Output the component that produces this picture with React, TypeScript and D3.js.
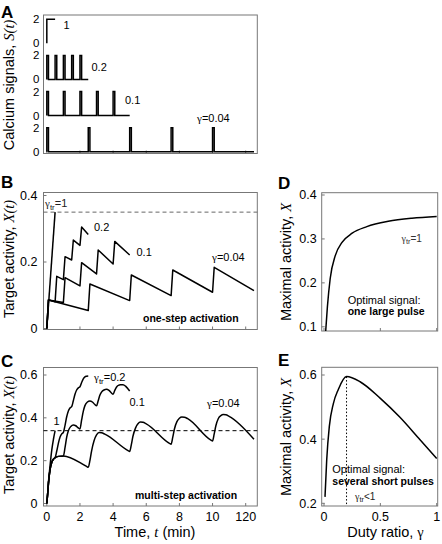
import React from "react";
import * as d3 from "d3";

// ---------- shared axis data ----------
const timeTicks = [0, 2, 4, 6, 8, 10, 12];
const timeTickLabels = ["0", "2", "4", "6", "8", "10", "120"];

// ---------- A: calcium signals ----------
const signalLabels = ["1", "0.2", "0.1", "γ=0.04"];
const pulseStarts = [[0], [0, 0.5, 1, 1.5, 2], [0, 1, 2, 3, 4], [0, 2.5, 5, 7.5, 10]];
const pulseWidths = [0.5, 0.1, 0.1, 0.1];
const signalEnds = [0.5, 2.5, 5, 12.5];
const signalAmplitude = 2;
const signalTicks = [0, 2];

// ---------- B: one-step activation X(t) ----------
const oneStepG1: number[][] = [[0, 0], [0.5, 0.35]];
const oneStepG02: number[][] = [[0, 0], [0.1, 0.086], [0.5, 0.08], [0.6, 0.157], [1.0, 0.147], [1.1, 0.216], [1.5, 0.206], [1.6, 0.266], [2.0, 0.25], [2.1, 0.305], [2.5, 0.283]];
const oneStepG01: number[][] = [[0, 0], [0.1, 0.086], [1.0, 0.078], [1.1, 0.153], [2.0, 0.128], [2.1, 0.198], [3.0, 0.164], [3.1, 0.236], [4.0, 0.194], [4.1, 0.262], [5.0, 0.221]];
const oneStepG004: number[][] = [[0, 0], [0.1, 0.086], [2.5, 0.054], [2.6, 0.134], [5.0, 0.084], [5.1, 0.161], [7.5, 0.099], [7.6, 0.176], [10.0, 0.109], [10.1, 0.184], [12.5, 0.114]];
const oneStepThreshold = 0.35;
const oneStepTicks = [0, 0.2, 0.4];

// ---------- C: multi-step activation X(t) ----------
const multiG1: number[][] = [[0, 0], [0.05, 0.045], [0.1, 0.1], [0.2, 0.18], [0.3, 0.25], [0.4, 0.3], [0.5, 0.34]];
const multiG02: number[][] = [[0, 0], [0.05, 0.045], [0.1, 0.095], [0.2, 0.16], [0.3, 0.193], [0.4, 0.207], [0.5, 0.214], [0.6, 0.245], [0.7, 0.282], [0.8, 0.31], [0.9, 0.325], [1.0, 0.332], [1.1, 0.365], [1.2, 0.405], [1.3, 0.432], [1.4, 0.446], [1.5, 0.452], [1.6, 0.48], [1.7, 0.51], [1.8, 0.53], [1.9, 0.54], [2.0, 0.545], [2.1, 0.565], [2.2, 0.582], [2.3, 0.591], [2.4, 0.594], [2.5, 0.595]];
const multiG01: number[][] = [[0, 0], [0.05, 0.045], [0.1, 0.095], [0.2, 0.16], [0.3, 0.193], [0.4, 0.207], [0.5, 0.214], [0.7, 0.22], [1.0, 0.222], [1.1, 0.262], [1.2, 0.31], [1.3, 0.34], [1.45, 0.36], [1.6, 0.367], [1.75, 0.363], [1.9, 0.353], [2.0, 0.348], [2.1, 0.39], [2.2, 0.43], [2.3, 0.457], [2.45, 0.474], [2.6, 0.479], [2.75, 0.474], [2.9, 0.462], [3.0, 0.456], [3.1, 0.48], [3.2, 0.505], [3.3, 0.52], [3.45, 0.53], [3.6, 0.533], [3.75, 0.528], [3.9, 0.516], [4.0, 0.51], [4.1, 0.528], [4.2, 0.543], [4.3, 0.551], [4.45, 0.555], [4.6, 0.555], [4.75, 0.548], [4.9, 0.535], [5.0, 0.525]];
const multiG004: number[][] = [[0, 0], [0.05, 0.045], [0.1, 0.095], [0.2, 0.16], [0.3, 0.193], [0.4, 0.207], [0.5, 0.214], [0.7, 0.22], [1.0, 0.222], [2.4, 0.173], [2.5, 0.169], [2.6, 0.2], [2.7, 0.245], [2.85, 0.293], [3.0, 0.32], [3.15, 0.331], [3.3, 0.33], [3.5, 0.324], [4.9, 0.247], [5.0, 0.243], [5.1, 0.275], [5.2, 0.315], [5.35, 0.352], [5.5, 0.372], [5.65, 0.38], [5.8, 0.379], [6.0, 0.372], [7.4, 0.281], [7.5, 0.277], [7.6, 0.31], [7.7, 0.348], [7.85, 0.382], [8.0, 0.398], [8.15, 0.404], [8.3, 0.403], [8.5, 0.396], [9.9, 0.296], [10.0, 0.292], [10.1, 0.325], [10.2, 0.363], [10.35, 0.397], [10.5, 0.41], [10.65, 0.415], [10.8, 0.414], [11.0, 0.407], [12.5, 0.3]];
const multiThreshold = 0.34;
const multiTicks = [0, 0.2, 0.4, 0.6];

// ---------- D / E: maximal activity vs duty ratio ----------
const dutyTicks = [0, 0.5, 1];
const dutyTickLabels = ["0", "0.5", "1"];
const dGamma = [0.015, 0.03, 0.055, 0.1, 0.16, 0.25, 0.38, 0.57, 0.78, 1.0];
const dMax = [0.09, 0.145, 0.21, 0.262, 0.292, 0.313, 0.328, 0.34, 0.347, 0.351];
const dTicks = [0.1, 0.2, 0.3, 0.4];
const eGamma = [0.009, 0.024, 0.047, 0.083, 0.127, 0.2, 0.32, 0.5, 0.674, 0.852, 1.0];
const eMax = [0.22, 0.335, 0.439, 0.511, 0.555, 0.595, 0.579, 0.527, 0.468, 0.398, 0.34];
const eTicks = [0.2, 0.4, 0.6];
const eOptimalGamma = 0.2;

const SANS = "'Liberation Sans', Arial, Helvetica, sans-serif";
const SERIF = "'Liberation Serif', 'Times New Roman', serif";
const BOX = "#777";
const TICK_FS = 12.5;
const TITLE_FS = 14.5;
const NOTE_FS = 11;

type Rect = { x0: number; x1: number; y0: number; y1: number };

const boxA: Rect = { x0: 43.5, x1: 257.3, y0: 15, y1: 153.5 };
const boxB: Rect = { x0: 43.5, x1: 257.3, y0: 192.5, y1: 329.5 };
const boxC: Rect = { x0: 43.5, x1: 257.3, y0: 367.5, y1: 506 };
const boxD: Rect = { x0: 321.7, x1: 437.7, y0: 192.7, y1: 331 };
const boxE: Rect = { x0: 321.7, x1: 437.7, y0: 367.3, y1: 506 };

const xT = d3.scaleLinear().domain([-0.2, 12.7]).range([boxA.x0, boxA.x1]);
const rowBase = d3.scaleLinear().domain([0, 3]).range([43.3, 151.7]);
const yB = d3.scaleLinear().domain([0, 0.4]).range([328.5, 195.5]);
const yC = d3.scaleLinear().domain([0, 0.6]).range([503.5, 375]);
const xDuty = d3.scaleLinear().domain([0, 1]).range([324, 436.7]);
const yD = d3.scaleLinear().domain([0.1, 0.4]).range([326.8, 195]);
const yE = d3.scaleLinear().domain([0.2, 0.6]).range([503.3, 375]);

const Box = ({ r }: { r: Rect }) => (
  <rect x={r.x0} y={r.y0} width={r.x1 - r.x0} height={r.y1 - r.y0} fill="none" stroke={BOX} strokeWidth={1} />
);

function signalPoints(i: number): number[][] {
  const pts: number[][] = [];
  const w = pulseWidths[i];
  const end = signalEnds[i];
  pulseStarts[i].forEach((s) => {
    pts.push([s, 0], [s, signalAmplitude]);
    if (s + w < end) {
      pts.push([s + w, signalAmplitude], [s + w, 0]);
    } else {
      pts.push([end, signalAmplitude]);
    }
  });
  const last = pts[pts.length - 1];
  if (last[1] === 0 && last[0] < end) pts.push([end, 0]);
  return pts;
}

export default function App() {
  const lineB = d3.line<number[]>().x((d) => xT(d[0])).y((d) => yB(d[1]));
  const lineC = d3.line<number[]>().x((d) => xT(d[0])).y((d) => yC(d[1])).curve(d3.curveMonotoneX);
  const dPts = dGamma.map((g, i) => [g, dMax[i]]);
  const ePts = eGamma.map((g, i) => [g, eMax[i]]);
  const lineD = d3.line<number[]>().x((d) => xDuty(d[0])).y((d) => yD(d[1])).curve(d3.curveMonotoneX);
  const lineE = d3.line<number[]>().x((d) => xDuty(d[0])).y((d) => yE(d[1])).curve(d3.curveMonotoneX);
  const ePeak = d3.max(eMax) as number;

  const bottomTicks = (r: Rect, ticks: number[], sx: (v: number) => number) =>
    ticks.map((t, i) => (
      <line key={"bt" + i} x1={sx(t)} x2={sx(t)} y1={r.y1} y2={r.y1 - 3} stroke={BOX} strokeWidth={1} />
    ));
  const leftTicks = (r: Rect, ticks: number[], sy: (v: number) => number, gap = 6) =>
    ticks.map((t, i) => (
      <g key={"lt" + i}>
        <line x1={r.x0} x2={r.x0 + 3} y1={sy(t)} y2={sy(t)} stroke={BOX} strokeWidth={1} />
        <text x={r.x0 - gap} y={sy(t)} dy="0.35em" textAnchor="end" fontSize={TICK_FS}>
          {String(t)}
        </text>
      </g>
    ));

  return (
    <svg
      width={442}
      height={544}
      viewBox="0 0 442 544"
      style={{ position: "absolute", left: 0, top: 0, background: "#fff" }}
      fontFamily={SANS}
    >
      <defs>
        <clipPath id="clipD">
          <rect x={boxD.x0} y={boxD.y0} width={boxD.x1 - boxD.x0} height={boxD.y1 - boxD.y0} />
        </clipPath>
        <clipPath id="clipE">
          <rect x={boxE.x0} y={boxE.y0} width={boxE.x1 - boxE.x0} height={boxE.y1 - boxE.y0} />
        </clipPath>
      </defs>
      <rect x={0} y={0} width={442} height={544} fill="#fff" />

      {/* Panel letters */}
      <g fontWeight="bold" fontSize={17}>
        <text x={1} y={17.5}>A</text>
        <text x={1} y={187.5}>B</text>
        <text x={1} y={367}>C</text>
        <text x={278} y={188.5}>D</text>
        <text x={278} y={365.5}>E</text>
      </g>

      {/* ---------------- Panel A ---------------- */}
      <Box r={boxA} />
      {bottomTicks(boxA, timeTicks, xT)}
      {pulseStarts.map((_, i) => {
        const yr = d3.scaleLinear().domain([0, 2]).range([rowBase(i), rowBase(i) - 24]);
        const line = d3.line<number[]>().x((d) => xT(d[0])).y((d) => yr(d[1]));
        return (
          <g key={"row" + i}>
            <path d={line(signalPoints(i)) || ""} fill="none" stroke="#000" strokeWidth={1.5} />
            {signalTicks.map((v) => (
              <text key={v} x={boxA.x0 - 4} y={yr(v)} dy="0.35em" textAnchor="end" fontSize={11.5}>
                {String(v)}
              </text>
            ))}
          </g>
        );
      })}
      <g fontSize={NOTE_FS}>
        <text x={63.5} y={29}>{signalLabels[0]}</text>
        <text x={91.5} y={70.5}>{signalLabels[1]}</text>
        <text x={125} y={104}>{signalLabels[2]}</text>
        <text x={197} y={122}>
          <tspan fontFamily={SERIF}>{signalLabels[3].slice(0, 1)}</tspan>
          <tspan>{signalLabels[3].slice(1)}</tspan>
        </text>
      </g>
      <text transform="translate(14,85) rotate(-90)" textAnchor="middle" fontSize={TITLE_FS}>
        Calcium signals, <tspan fontFamily={SERIF} fontStyle="italic">S(t)</tspan>
      </text>

      {/* ---------------- Panel B ---------------- */}
      <Box r={boxB} />
      {bottomTicks(boxB, timeTicks, xT)}
      {leftTicks(boxB, oneStepTicks, yB)}
      <line x1={boxB.x0} x2={boxB.x1} y1={yB(oneStepThreshold)} y2={yB(oneStepThreshold)} stroke="#666" strokeWidth={1} strokeDasharray="4,3" />
      {[oneStepG1, oneStepG02, oneStepG01, oneStepG004].map((s, i) => (
        <path key={"b" + i} d={lineB(s) || ""} fill="none" stroke="#000" strokeWidth={1.5} strokeLinejoin="round" />
      ))}
      <g fontSize={NOTE_FS}>
        <text x={45} y={207} fill="#222">
          <tspan fontFamily={SERIF}>γ</tspan>
          <tspan fontSize={8} dy={2.5}>tr</tspan>
          <tspan dy={-2.5}>=1</tspan>
        </text>
        <text x={94} y={230.5}>0.2</text>
        <text x={136.5} y={255.5}>0.1</text>
        <text x={212} y={261}>
          <tspan fontFamily={SERIF}>γ</tspan>=0.04
        </text>
      </g>
      <text x={143} y={321.5} fontSize={10.5} fontWeight="bold">one-step activation</text>
      <text transform="translate(14,259) rotate(-90)" textAnchor="middle" fontSize={TITLE_FS}>
        Target activity, <tspan fontFamily={SERIF} fontStyle="italic">X(t)</tspan>
      </text>

      {/* ---------------- Panel C ---------------- */}
      <Box r={boxC} />
      {bottomTicks(boxC, timeTicks, xT)}
      {leftTicks(boxC, multiTicks, yC)}
      {timeTicks.map((t, i) => (
        <text key={"ct" + i} x={xT(t)} y={521} textAnchor="middle" fontSize={TICK_FS}>
          {timeTickLabels[i]}
        </text>
      ))}
      <line x1={boxC.x0} x2={boxC.x1} y1={yC(multiThreshold)} y2={yC(multiThreshold)} stroke="#000" strokeWidth={1} strokeDasharray="4,3" />
      {[multiG1, multiG02, multiG01, multiG004].map((s, i) => (
        <path key={"c" + i} d={lineC(s) || ""} fill="none" stroke="#000" strokeWidth={1.5} strokeLinejoin="round" />
      ))}
      <g fontSize={NOTE_FS}>
        <text x={94} y={381}>
          <tspan fontFamily={SERIF}>γ</tspan>
          <tspan fontSize={8} dy={2.5}>tr</tspan>
          <tspan dy={-2.5}>=0.2</tspan>
        </text>
        <text x={129.5} y={405.5}>0.1</text>
        <text x={53.5} y={425}>1</text>
        <text x={207} y={407}>
          <tspan fontFamily={SERIF}>γ</tspan>=0.04
        </text>
      </g>
      <text x={135} y={499} fontSize={10.5} fontWeight="bold">multi-step activation</text>
      <text transform="translate(14,435) rotate(-90)" textAnchor="middle" fontSize={TITLE_FS}>
        Target activity, <tspan fontFamily={SERIF} fontStyle="italic">X(t)</tspan>
      </text>
      <text x={155} y={537} textAnchor="middle" fontSize={TITLE_FS}>
        Time, <tspan fontFamily={SERIF} fontStyle="italic">t</tspan> (min)
      </text>

      {/* ---------------- Panel D ---------------- */}
      <Box r={boxD} />
      {bottomTicks(boxD, dutyTicks, xDuty)}
      {leftTicks(boxD, dTicks, yD, 5)}
      <path d={lineD(dPts) || ""} fill="none" stroke="#000" strokeWidth={1.5} clipPath="url(#clipD)" />
      <text x={401.5} y={241.5} fontSize={10} fill="#333">
        <tspan fontFamily={SERIF}>γ</tspan>
        <tspan fontSize={7.5} dy={2.5}>tr</tspan>
        <tspan dy={-2.5}>=1</tspan>
      </text>
      <text x={347.7} y={303.5} fontSize={NOTE_FS}>Optimal signal:</text>
      <text x={347.7} y={315} fontSize={10.5} fontWeight="bold">one large pulse</text>
      <text transform="translate(291,262) rotate(-90)" textAnchor="middle" fontSize={TITLE_FS}>
        Maximal activity, <tspan fontFamily={SERIF} fontStyle="italic">X</tspan>
      </text>

      {/* ---------------- Panel E ---------------- */}
      <Box r={boxE} />
      {bottomTicks(boxE, dutyTicks, xDuty)}
      {leftTicks(boxE, eTicks, yE, 5)}
      {dutyTicks.map((t, i) => (
        <text key={"et" + i} x={xDuty(t)} y={521} textAnchor="middle" fontSize={TICK_FS}>
          {dutyTickLabels[i]}
        </text>
      ))}
      <line x1={xDuty(eOptimalGamma)} x2={xDuty(eOptimalGamma)} y1={yE(ePeak)} y2={boxE.y1} stroke="#000" strokeWidth={1} strokeDasharray="1.5,2" />
      <path d={lineE(ePts) || ""} fill="none" stroke="#000" strokeWidth={1.5} clipPath="url(#clipE)" />
      <text x={332.3} y={473} fontSize={NOTE_FS}>Optimal signal:</text>
      <text x={332.3} y={484.5} fontSize={10.5} fontWeight="bold">several short pulses</text>
      <text x={355} y={499.5} fontSize={10} fill="#222">
        <tspan fontFamily={SERIF}>γ</tspan>
        <tspan fontSize={7.5} dy={2.5}>tr</tspan>
        <tspan dy={-2.5}>&lt;1</tspan>
      </text>
      <text transform="translate(291,437) rotate(-90)" textAnchor="middle" fontSize={TITLE_FS}>
        Maximal activity, <tspan fontFamily={SERIF} fontStyle="italic">X</tspan>
      </text>
      <text x={385.5} y={537} textAnchor="middle" fontSize={TITLE_FS}>
        Duty ratio, <tspan fontFamily={SERIF}>γ</tspan>
      </text>
    </svg>
  );
}
